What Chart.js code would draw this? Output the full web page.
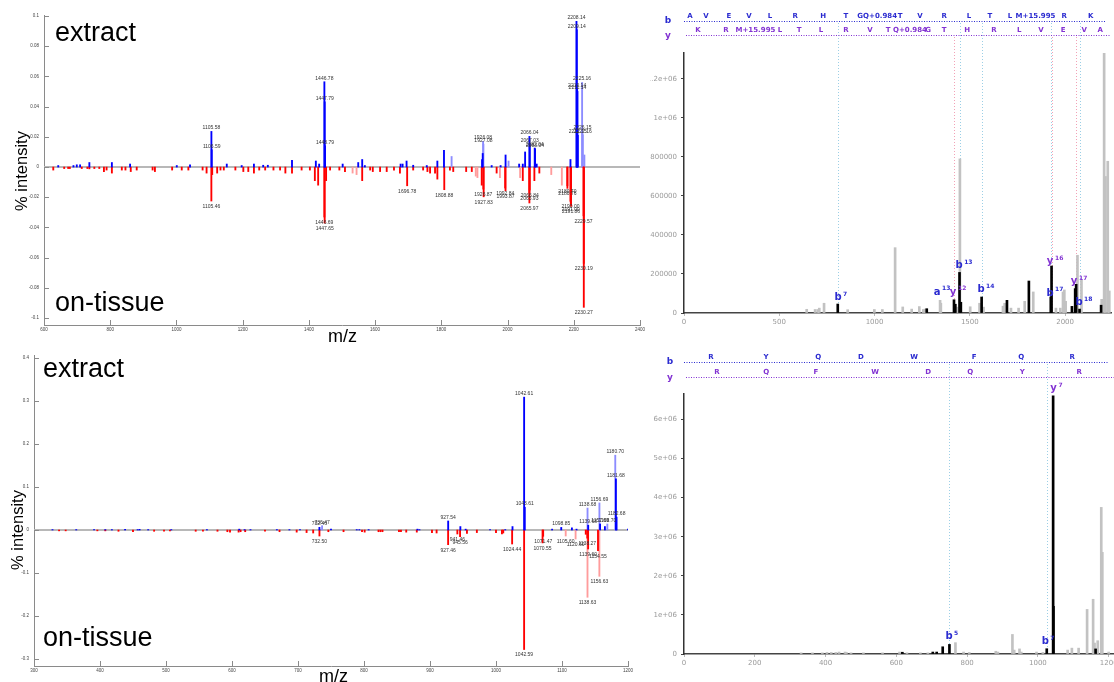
<!DOCTYPE html>
<html>
<head>
<meta charset="utf-8">
<title>extract vs on-tissue spectra</title>
<script src="https://cdn.jsdelivr.net/npm/chart.js@4.4.1/dist/chart.umd.min.js"></script>
<style>
  body { margin: 0; width: 1114px; height: 682px; overflow: hidden; position: relative; background: #fff; font-family: "Liberation Sans", Arial, sans-serif; }
  canvas { position: absolute; }
  .tag { position: absolute; font-size: 27px; line-height: 1; color: #000; white-space: nowrap; }
  .ylab { position: absolute; font-size: 16.5px; line-height: 1; white-space: nowrap; transform: translate(-50%, -50%) rotate(-90deg); }
  .xlab { position: absolute; font-size: 18px; line-height: 1; white-space: nowrap; }
</style>
</head>
<body>
<canvas id="topMirror" width="650" height="345" style="left:0;top:0"></canvas>
<canvas id="botMirror" width="650" height="342" style="left:0;top:340px"></canvas>
<canvas id="topMsms" width="464" height="340" style="left:650px;top:0"></canvas>
<canvas id="botMsms" width="500" height="342" style="left:650px;top:340px"></canvas>

<div class="tag" style="left:55px;top:19px">extract</div>
<div class="tag" style="left:55px;top:289px">on-tissue</div>
<div class="ylab" style="left:21px;top:171px">% intensity</div>
<div class="xlab" style="left:328px;top:327px">m/z</div>

<div class="tag" style="left:43px;top:355px">extract</div>
<div class="tag" style="left:43px;top:624px">on-tissue</div>
<div class="ylab" style="left:17px;top:530px">% intensity</div>
<div class="xlab" style="left:319px;top:667px">m/z</div>

<script>
// ---- top mirror plot (m/z 600-2400) ----
const tlXTicks = [600, 800, 1000, 1200, 1400, 1600, 1800, 2000, 2200, 2400];
const tlYTicks = [-0.1, -0.08, -0.06, -0.04, -0.02, 0, 0.02, 0.04, 0.06, 0.08, 0.1];

const tlExtractMz = [643, 689, 699, 709, 737, 805, 860, 1001, 1041, 1105.58, 1106.59, 1152, 1197, 1234, 1262,
  1276, 1349, 1421, 1431, 1446.78, 1447.79, 1448.79, 1502, 1549, 1561, 1569, 1677, 1683, 1695, 1715,
  1756, 1788, 1808, 1923, 1925, 1952, 1979, 1994, 2035, 2046, 2053, 2066.04, 2067.03, 2082.04, 2083.04,
  2088, 2190, 2208.14, 2209.14, 2210.14, 2211.14, 2212.15];
const tlExtractInt = [0.001, 0.001, 0.0015, 0.0015, 0.003, 0.003, 0.002, 0.001, 0.0015, 0.0236, 0.0115, 0.002, 0.001, 0.002, 0.0012,
  0.0012, 0.0045, 0.004, 0.002, 0.0565, 0.0432, 0.0141, 0.002, 0.003, 0.005, 0.001, 0.002, 0.002, 0.004, 0.0012,
  0.001, 0.004, 0.011, 0.005, 0.009, 0.001, 0.001, 0.008, 0.002, 0.002, 0.010, 0.0203, 0.0154, 0.0126, 0.0121,
  0.002, 0.005, 0.0965, 0.091, 0.0517, 0.0501, 0.021];
const tlExtractFaintMz = [1831, 1926.08, 1927.08, 2003, 2225.16, 2226.15, 2227.16, 2232];
const tlExtractFaintInt = [0.007, 0.017, 0.0152, 0.004, 0.056, 0.0236, 0.0214, 0.008];
const tlExtractLabels = [1105.58, 1106.59, 1446.78, 1447.79, 1448.79, 1926.08, 1927.08, 2066.04, 2067.03, 2082.04,
  2083.04, 2208.14, 2209.14, 2210.14, 2211.14, 2212.15, 2225.16, 2226.15, 2227.16];

const tlTissueMz = [628, 661, 673, 678, 714, 731, 737, 752, 767, 781, 789, 805, 835, 846, 862, 880, 928, 935, 987, 1016,
  1036, 1079, 1091, 1105.46, 1108, 1123, 1133, 1143, 1178, 1202, 1217, 1234, 1250, 1268, 1293, 1313, 1329, 1349,
  1378, 1403, 1418, 1428, 1446.69, 1447.65, 1452, 1464, 1492, 1509, 1561, 1585, 1593, 1615, 1635, 1657, 1675,
  1696.78, 1715, 1745, 1758, 1766, 1781, 1788, 1808.88, 1826, 1836, 1875, 1892, 1922, 1926.87, 1927.83, 1967,
  1992.84, 1993.87, 2046, 2065.93, 2065.97, 2066.84, 2081, 2096, 2180.70, 2180.76, 2190.00, 2191.00, 2191.86,
  2229.57, 2230.19, 2230.27];
const tlTissueInt = [-0.002, -0.001, -0.001, -0.001, -0.001, -0.001, -0.0012, -0.001, -0.001, -0.003, -0.002, -0.004,
  -0.002, -0.002, -0.003, -0.002, -0.002, -0.003, -0.002, -0.002, -0.002, -0.002, -0.004, -0.0225, -0.005, -0.004,
  -0.002, -0.002, -0.002, -0.003, -0.003, -0.004, -0.002, -0.002, -0.002, -0.002, -0.004, -0.004, -0.002, -0.002,
  -0.009, -0.012, -0.0331, -0.0371, -0.009, -0.002, -0.002, -0.003, -0.009, -0.002, -0.003, -0.003, -0.003, -0.002,
  -0.004, -0.0124, -0.002, -0.002, -0.003, -0.004, -0.004, -0.008, -0.015, -0.002, -0.003, -0.003, -0.003, -0.012,
  -0.0146, -0.0197, -0.004, -0.0139, -0.0157, -0.009, -0.0172, -0.0238, -0.0152, -0.009, -0.004, -0.0124, -0.0141,
  -0.0227, -0.0245, -0.026, -0.0323, -0.0638, -0.0929];
const tlTissueFaintMz = [1532, 1544, 1904, 1909, 1977, 2038, 2132, 2164];
const tlTissueFaintInt = [-0.004, -0.005, -0.006, -0.007, -0.007, -0.007, -0.005, -0.012];
const tlTissueLabels = [1105.46, 1446.69, 1447.65, 1696.78, 1808.88, 1926.87, 1927.83, 1992.84, 1993.87, 2065.93,
  2065.97, 2066.84, 2180.70, 2180.76, 2190.00, 2191.00, 2191.86, 2229.57, 2230.19, 2230.27];

// ---- bottom mirror plot (m/z 300-1200) ----
const blXTicks = [300, 400, 500, 600, 700, 800, 900, 1000, 1100, 1200];
const blYTicks = [-0.3, -0.2, -0.1, 0, 0.1, 0.2, 0.3, 0.4];

const blExtractMz = [328, 364, 391, 408, 418, 438, 457, 460, 473, 508, 562, 611, 619, 628, 668, 687, 703, 732.46, 750,
  789, 793, 807, 881, 884, 927.54, 946, 954, 991, 1014, 1025, 1042.61, 1043.61, 1085, 1098.85, 1115, 1122, 1139.68,
  1157.69, 1165, 1181.68, 1182.68, 1200];
const blExtractInt = [0.001, 0.001, 0.001, 0.001, 0.001, 0.0015, 0.001, 0.0015, 0.001, 0.001, 0.001, 0.002, 0.001,
  0.001, 0.001, 0.001, 0.001, 0.0063, 0.002, 0.001, 0.001, 0.001, 0.002, 0.001, 0.021, 0.008, 0.002, 0.001, 0.001,
  0.008, 0.309, 0.053, 0.002, 0.006, 0.005, 0.002, 0.011, 0.014, 0.008, 0.119, 0.030, 0.002];
const blExtractFaintMz = [736.47, 1138.68, 1156.69, 1168.70, 1180.70];
const blExtractFaintInt = [0.010, 0.051, 0.063, 0.0139, 0.174];
const blExtractLabels = [732.46, 736.47, 927.54, 1042.61, 1043.61, 1098.85, 1138.68, 1139.68, 1156.69, 1157.69,
  1168.70, 1180.70, 1181.68, 1182.68];

const blTissueMz = [338, 348, 396, 408, 428, 450, 482, 497, 506, 545, 556, 578, 593, 597, 610, 613, 620, 650, 672, 698,
  713, 723, 732.50, 746, 769, 797, 801, 822, 825, 828, 853, 856, 864, 880, 903, 910, 927.46, 941.46, 945.56, 956,
  971, 1000, 1009, 1011, 1024.44, 1042.59, 1070.55, 1071.47, 1136, 1138.27, 1139.60, 1154.55];
const blTissueInt = [-0.002, -0.002, -0.002, -0.002, -0.003, -0.004, -0.003, -0.003, -0.002, -0.003, -0.003, -0.003,
  -0.004, -0.005, -0.005, -0.004, -0.004, -0.003, -0.004, -0.005, -0.006, -0.007, -0.014, -0.004, -0.004, -0.004,
  -0.005, -0.004, -0.004, -0.004, -0.004, -0.004, -0.005, -0.005, -0.006, -0.007, -0.0342, -0.0093, -0.0156, -0.008,
  -0.006, -0.006, -0.009, -0.007, -0.0326, -0.278, -0.030, -0.0147, -0.010, -0.019, -0.0442, -0.0481];
const blTissueFaintMz = [1105.60, 1120.60, 1138.63, 1156.63];
const blTissueFaintInt = [-0.014, -0.021, -0.1565, -0.1077];
const blTissueLabels = [732.50, 927.46, 941.46, 945.56, 1024.44, 1042.59, 1070.55, 1071.47, 1105.60, 1120.60,
  1138.27, 1138.63, 1139.60, 1154.55, 1156.63];

// ---- top MS/MS spectrum ----
const trXTicks = [0, 500, 1000, 1500, 2000];
const trYTicks = [0, 200000, 400000, 600000, 800000, 1000000, 1200000];
const trMatchMz = [807, 1274, 1417, 1424, 1446, 1453, 1562, 1695, 1810, 1925, 1929, 2036, 2053, 2058, 2076, 2189];
const trMatchInt = [46000, 22000, 68000, 45000, 208000, 55000, 82000, 65000, 164000, 82000, 241000, 34000, 125000,
  147000, 20000, 40000];
const trOtherMz = [644, 688, 702, 710, 735, 859, 999, 1041, 1108, 1148, 1195, 1235, 1256, 1265, 1344, 1348, 1435, 1448,
  1502, 1551, 1572, 1674, 1683, 1716, 1756, 1788, 1833, 1952, 1975, 1989, 1996, 2003, 2065, 2086, 2192, 2205, 2212,
  2224, 2232];
const trOtherInt = [19000, 18000, 18000, 25000, 50000, 17000, 18000, 18000, 335000, 31000, 20000, 33000, 18000, 20000,
  65000, 50000, 30000, 790000, 32000, 50000, 30000, 35000, 50000, 25000, 25000, 60000, 108000, 25000, 25000, 108000,
  118000, 60000, 296000, 170000, 70000, 1333000, 700000, 778000, 113000];
const trSeqB = ['A', 'V', 'E', 'V', 'L', 'R', 'H', 'T', 'G', 'Q+0.984', 'T', 'V', 'R', 'L', 'T', 'L', 'M+15.995', 'R', 'K'];
const trSeqBAt = [31, 115, 236, 341, 451, 583, 730, 850, 924, 1029, 1134, 1239, 1365, 1496, 1606, 1711, 1845, 1995, 2135];
const trSeqY = ['K', 'R', 'M+15.995', 'L', 'T', 'L', 'R', 'V', 'T', 'Q+0.984', 'G', 'T', 'H', 'R', 'L', 'V', 'E', 'V', 'A'];
const trSeqYAt = [73, 220, 375, 504, 604, 719, 850, 976, 1071, 1186, 1281, 1365, 1486, 1627, 1759, 1874, 1990, 2100, 2184];
const trIonName = ['b', 'a', 'y', 'b', 'b', 'y', 'b', 'y', 'b'];
const trIonNum = ['7', '13', '12', '13', '14', '16', '17', '17', '18'];
const trIonMz = [808, 1328, 1412, 1444, 1559, 1921, 1921, 2047, 2073];
const trIonAt = [82000, 108000, 108000, 246000, 123000, 262000, 103000, 164000, 56000];
const trGuideB = [807, 1446, 1562, 1925, 2079];
const trGuideY = [1417, 1929, 2058];

// ---- bottom MS/MS spectrum ----
const brXTicks = [0, 200, 400, 600, 800, 1000, 1200];
const brYTicks = [0, 1000000, 2000000, 3000000, 4000000, 5000000, 6000000];
const brMatchMz = [617, 703, 714, 731, 750, 1025, 1043, 1044, 1163];
const brMatchInt = [45000, 50000, 50000, 185000, 245000, 135000, 6600000, 1220000, 130000];
const brOtherMz = [331, 363, 391, 404, 416, 429, 438, 455, 459, 472, 507, 561, 609, 630, 668, 689, 767, 790, 806, 881,
  887, 928, 933, 948, 953, 996, 1014, 1084, 1096, 1115, 1139, 1156, 1160, 1169, 1179, 1182, 1200];
const brOtherInt = [30000, 30000, 30000, 40000, 40000, 40000, 50000, 50000, 40000, 30000, 30000, 30000, 50000, 30000,
  30000, 30000, 290000, 50000, 40000, 70000, 50000, 500000, 100000, 130000, 50000, 50000, 40000, 100000, 150000,
  150000, 1140000, 1400000, 280000, 340000, 3750000, 2600000, 50000];
const brSeqB = ['R', 'Y', 'Q', 'D', 'W', 'F', 'Q', 'R'];
const brSeqBAt = [76, 232, 379, 500, 650, 820, 953, 1097];
const brSeqY = ['R', 'Q', 'F', 'W', 'D', 'Q', 'Y', 'R'];
const brSeqYAt = [93, 232, 373, 540, 690, 809, 956, 1117];
const brIonName = ['b', 'b', 'y'];
const brIonNum = ['5', '7', '7'];
const brIonMz = [749, 1021, 1044];
const brIonAt = [458000, 331000, 6790000];
const brGuideB = [750, 1026];
const brGuideY = [];

const BLUE = '#2b2bd0';
const PURPLE = '#8232d2';

function pts(mz, val) {
  return mz.map((m, i) => ({ x: m, y: val[i] }));
}

function setTicks(list) {
  return s => { s.ticks = list.map(v => ({ value: v })); };
}

// grey baseline at zero, under the bars
const zeroLine = {
  id: 'zeroLine',
  beforeDatasetsDraw(chart) {
    const { ctx, chartArea: a, scales: { y } } = chart;
    const py = y.getPixelForValue(0);
    ctx.save();
    ctx.strokeStyle = '#b8b8b8';
    ctx.lineWidth = 2;
    ctx.beginPath();
    ctx.moveTo(a.left, py);
    ctx.lineTo(a.right, py);
    ctx.stroke();
    ctx.restore();
  }
};

// matlab style ticks pointing into the plot
const innerTicks = {
  id: 'innerTicks',
  afterDraw(chart) {
    const { ctx, chartArea: a, scales: { x, y } } = chart;
    ctx.save();
    ctx.strokeStyle = '#8a8a8a';
    ctx.lineWidth = 1;
    ctx.beginPath();
    y.ticks.forEach(t => {
      const py = Math.round(y.getPixelForValue(t.value)) + 0.5;
      ctx.moveTo(a.left, py);
      ctx.lineTo(a.left + 5, py);
    });
    x.ticks.forEach(t => {
      const px = Math.round(x.getPixelForValue(t.value)) + 0.5;
      ctx.moveTo(px, a.bottom);
      ctx.lineTo(px, a.bottom - 5);
    });
    ctx.stroke();
    ctx.restore();
  }
};

// m/z text on the picked peaks
const peakLabels = {
  id: 'peakLabels',
  afterDatasetsDraw(chart) {
    const { ctx, scales: { x, y } } = chart;
    ctx.save();
    ctx.font = '5px "Liberation Sans", Arial, sans-serif';
    ctx.fillStyle = '#333';
    ctx.textAlign = 'center';
    chart.data.datasets.forEach(ds => {
      if (!ds.labelMz) return;
      ds.data.forEach(p => {
        if (!ds.labelMz.includes(p.x)) return;
        const px = x.getPixelForValue(p.x);
        const py = y.getPixelForValue(p.y);
        if (p.y >= 0) {
          ctx.textBaseline = 'bottom';
          ctx.fillText(p.x.toFixed(2), px, py - 1);
        } else {
          ctx.textBaseline = 'top';
          ctx.fillText(p.x.toFixed(2), px, py + 3);
        }
      });
    });
    ctx.restore();
  }
};

function mirrorChart(id, c) {
  const tickFont = { size: 4.5, family: '"Liberation Sans", Arial, sans-serif' };
  return new Chart(document.getElementById(id), {
    type: 'bar',
    data: {
      datasets: [
        { data: pts(c.exMz, c.exInt), backgroundColor: '#0000ff', labelMz: c.exLabels },
        { data: pts(c.tiMz, c.tiInt), backgroundColor: '#ff0000', labelMz: c.tiLabels },
        { data: pts(c.exFaintMz, c.exFaintInt), backgroundColor: '#8c8cff', labelMz: c.exLabels },
        { data: pts(c.tiFaintMz, c.tiFaintInt), backgroundColor: '#ff9c9c', labelMz: c.tiLabels }
      ]
    },
    options: {
      responsive: false,
      animation: false,
      events: [],
      layout: { padding: c.pad },
      datasets: { bar: { grouped: false, barThickness: 1.2, borderWidth: 0 } },
      plugins: { legend: { display: false }, tooltip: { enabled: false } },
      scales: {
        x: {
          type: 'linear', min: c.xMin, max: c.xMax, offset: false,
          grid: { display: false, drawTicks: false, offset: false },
          border: { color: '#8a8a8a', width: 1 },
          afterBuildTicks: setTicks(c.xTicks),
          afterFit: s => { s.height = c.xH; },
          ticks: { font: tickFont, color: '#444', padding: 2, maxRotation: 0, autoSkip: false, callback: v => String(v) }
        },
        y: {
          min: c.yMin, max: c.yMax,
          grid: { display: false, drawTicks: false },
          border: { color: '#8a8a8a', width: 1 },
          afterBuildTicks: setTicks(c.yTicks),
          afterFit: s => { s.width = c.yW; },
          ticks: { font: tickFont, color: '#444', padding: 5, callback: v => String(+v.toFixed(2)) }
        }
      }
    },
    plugins: [zeroLine, innerTicks, peakLabels]
  });
}

// sequence ladders, guide lines and ion names for the MS/MS panels
function ladderPlugin(c) {
  const dotted = (ctx, x1, y1, x2, y2, color) => {
    ctx.strokeStyle = color;
    ctx.beginPath();
    ctx.moveTo(x1, y1);
    ctx.lineTo(x2, y2);
    ctx.stroke();
  };
  return {
    id: 'ladder',
    beforeDatasetsDraw(chart) {
      const { ctx, chartArea: a, scales: { x } } = chart;
      ctx.save();
      ctx.lineWidth = 1;
      ctx.setLineDash([1, 2]);
      c.guideB.forEach(m => {
        const px = Math.round(x.getPixelForValue(m)) + 0.5;
        dotted(ctx, px, c.bLine + 2, px, a.bottom, '#9ccfe6');
      });
      c.guideY.forEach(m => {
        const px = Math.round(x.getPixelForValue(m)) + 0.5;
        dotted(ctx, px, c.yLine + 2, px, a.bottom, '#f2a2b6');
      });
      ctx.restore();
    },
    afterDraw(chart) {
      const { ctx, chartArea: a, scales: { x, y } } = chart;
      ctx.save();
      ctx.lineWidth = 1;
      ctx.setLineDash([1, 1.5]);
      dotted(ctx, a.left, c.bLine + 0.5, a.right - 6, c.bLine + 0.5, BLUE);
      dotted(ctx, a.left + 2, c.yLine + 0.5, a.right, c.yLine + 0.5, PURPLE);
      ctx.setLineDash([]);

      ctx.textAlign = 'center';
      ctx.textBaseline = 'middle';
      ctx.font = 'bold 7px "DejaVu Sans", sans-serif';
      ctx.fillStyle = BLUE;
      c.seqB.forEach((s, i) => ctx.fillText(s, x.getPixelForValue(c.seqBAt[i]), c.bLine - 5));
      ctx.fillStyle = PURPLE;
      c.seqY.forEach((s, i) => ctx.fillText(s, x.getPixelForValue(c.seqYAt[i]), c.yLine - 5));

      ctx.font = 'bold 9px "DejaVu Sans", sans-serif';
      ctx.fillStyle = BLUE;
      ctx.fillText('b', c.sideX, c.bLine);
      ctx.fillStyle = PURPLE;
      ctx.fillText('y', c.sideX, c.yLine + 1);

      c.ionName.forEach((n, i) => {
        const px = x.getPixelForValue(c.ionMz[i]);
        const py = y.getPixelForValue(c.ionAt[i]);
        ctx.fillStyle = n === 'y' ? PURPLE : BLUE;
        ctx.font = 'bold 10px "DejaVu Sans", sans-serif';
        ctx.textAlign = 'center';
        ctx.fillText(n, px, py);
        ctx.font = 'bold 6px "DejaVu Sans", sans-serif';
        ctx.textAlign = 'left';
        ctx.fillText(c.ionNum[i], px + 5, py - 3);
      });
      ctx.restore();
    }
  };
}

function msmsChart(id, c) {
  const tickFont = { size: 7, family: '"DejaVu Sans", sans-serif' };
  return new Chart(document.getElementById(id), {
    type: 'bar',
    data: {
      datasets: [
        { data: pts(c.matchMz, c.matchInt), backgroundColor: '#000' },
        { data: pts(c.otherMz, c.otherInt), backgroundColor: '#c2c2c2' }
      ]
    },
    options: {
      responsive: false,
      animation: false,
      events: [],
      layout: { padding: c.pad },
      datasets: { bar: { grouped: false, barThickness: 2, borderWidth: 0 } },
      plugins: { legend: { display: false }, tooltip: { enabled: false } },
      scales: {
        x: {
          type: 'linear', min: c.xMin, max: c.xMax, offset: false,
          grid: { display: true, drawOnChartArea: false, tickLength: 3, color: '#bbb', offset: false },
          border: { color: '#444', width: 1.5 },
          afterBuildTicks: setTicks(c.xTicks),
          afterFit: s => { s.height = c.xH; },
          ticks: { font: tickFont, color: '#9a9a9a', padding: 2, maxRotation: 0, autoSkip: false, callback: v => String(v) }
        },
        y: {
          min: 0, max: c.yMax,
          grid: { display: true, drawOnChartArea: false, tickLength: 3, color: '#444' },
          border: { color: '#333', width: 1.5 },
          afterBuildTicks: setTicks(c.yTicks),
          afterFit: s => { s.width = 34; },
          ticks: {
            font: tickFont, color: '#9a9a9a', padding: 4,
            callback: v => (v >= 1e6 ? (v / 1e6) + 'e+06' : String(v))
          }
        }
      }
    },
    plugins: [ladderPlugin(c)]
  });
}

mirrorChart('topMirror', {
  exMz: tlExtractMz, exInt: tlExtractInt, exFaintMz: tlExtractFaintMz, exFaintInt: tlExtractFaintInt, exLabels: tlExtractLabels,
  tiMz: tlTissueMz, tiInt: tlTissueInt, tiFaintMz: tlTissueFaintMz, tiFaintInt: tlTissueFaintInt, tiLabels: tlTissueLabels,
  xMin: 600, xMax: 2400, xTicks: tlXTicks, yMin: -0.1046, yMax: 0.1007, yTicks: tlYTicks,
  pad: { left: 0, right: 10, top: 15, bottom: 0 }, yW: 44, xH: 20
});

mirrorChart('botMirror', {
  exMz: blExtractMz, exInt: blExtractInt, exFaintMz: blExtractFaintMz, exFaintInt: blExtractFaintInt, exLabels: blExtractLabels,
  tiMz: blTissueMz, tiInt: blTissueInt, tiFaintMz: blTissueFaintMz, tiFaintInt: blTissueFaintInt, tiLabels: blTissueLabels,
  xMin: 300, xMax: 1200, xTicks: blXTicks, yMin: -0.3163, yMax: 0.407, yTicks: blYTicks,
  pad: { left: 0, right: 22, top: 15, bottom: 0 }, yW: 34, xH: 16
});

msmsChart('topMsms', {
  matchMz: trMatchMz, matchInt: trMatchInt, otherMz: trOtherMz, otherInt: trOtherInt,
  xMin: 0, xMax: 2241, xTicks: trXTicks, yMax: 1333000, yTicks: trYTicks,
  pad: { left: 0, right: 3, top: 53, bottom: 0 }, xH: 27,
  seqB: trSeqB, seqBAt: trSeqBAt, seqY: trSeqY, seqYAt: trSeqYAt, bLine: 21, yLine: 35, sideX: 18,
  ionName: trIonName, ionNum: trIonNum, ionMz: trIonMz, ionAt: trIonAt, guideB: trGuideB, guideY: trGuideY
});

msmsChart('botMsms', {
  matchMz: brMatchMz, matchInt: brMatchInt, otherMz: brOtherMz, otherInt: brOtherInt,
  xMin: 0, xMax: 1215, xTicks: brXTicks, yMax: 6650000, yTicks: brYTicks,
  pad: { left: 0, right: 36, top: 54, bottom: 0 }, xH: 28,
  seqB: brSeqB, seqBAt: brSeqBAt, seqY: brSeqY, seqYAt: brSeqYAt, bLine: 22, yLine: 37, sideX: 20,
  ionName: brIonName, ionNum: brIonNum, ionMz: brIonMz, ionAt: brIonAt, guideB: brGuideB, guideY: brGuideY
});
</script>
</body>
</html>
